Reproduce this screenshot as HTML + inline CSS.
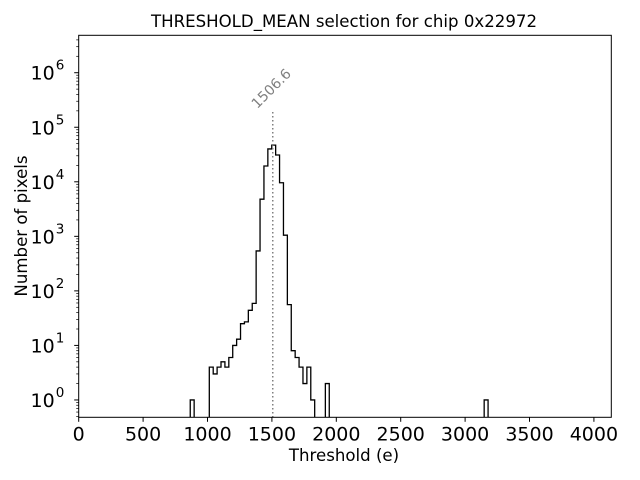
<!DOCTYPE html>
<html><head><meta charset="utf-8"><style>
body{margin:0;background:#fff;}
svg{display:block;font-family:"DejaVu Sans","Liberation Sans",sans-serif;}
</style></head><body>
<svg id="chart" width="640" height="480">
<rect width="640" height="480" fill="#fff"/>
<text x="344" y="27" font-size="16.6" text-anchor="middle">THRESHOLD_MEAN selection for chip 0x22972</text>
<text x="344" y="461" font-size="16.6" text-anchor="middle">Threshold (e)</text>
<text transform="translate(27,226) rotate(-90)" font-size="16.6" text-anchor="middle">Number of pixels</text>
<g id="plot"></g>
</svg>
<script>
const binStart = 1014;
const binWidth = 30.3;
const counts = [4,3,4,5,4,6,10,13,25,27,44,59,540,4800,19500,40000,47000,31000,9600,1050,56,8,6,4,2,4,1];
const extraLefts = [866,1915,3148];
const extraCounts = [1,2,1];
const xTicks = [0,500,1000,1500,2000,2500,3000,3500,4000];
const yTickExps = [0,1,2,3,4,5,6];
const thresholdValue = 1506.6;
const thresholdLineTop = 190000;

const X0=78.7, X1=611.3, Y0=417.3, Y1=35.3;
const xmin=0, xmax=4135, lmin=-0.318, lmax=6.686;
const sx=v=>X0+(v-xmin)/(xmax-xmin)*(X1-X0);
const sy=v=>Y0-(Math.log10(v)-lmin)/(lmax-lmin)*(Y0-Y1);
const NS='http://www.w3.org/2000/svg';
const g=document.getElementById('plot');
function mk(t,a,parent){const e=document.createElementNS(NS,t);for(const k in a)e.setAttribute(k,a[k]);(parent||g).appendChild(e);return e;}

let d='M'+sx(binStart)+','+Y0;
counts.forEach((c,i)=>{const l=sx(binStart+i*binWidth),r=sx(binStart+(i+1)*binWidth);
 const y=c>0?sy(c):Y0; d+=' L'+l+','+y+' L'+r+','+y;});
d+=' L'+sx(binStart+counts.length*binWidth)+','+Y0;
let p=mk('path',{d:d,fill:'none',stroke:'#000','stroke-width':1.3});


extraLefts.forEach((l,i)=>{
 const e=mk('path',{d:'M'+sx(l)+','+Y0+' L'+sx(l)+','+sy(extraCounts[i])+' L'+sx(l+binWidth)+','+sy(extraCounts[i])+' L'+sx(l+binWidth)+','+Y0,fill:'none',stroke:'#000','stroke-width':1.3});
 
 
});
const tx=sx(thresholdValue);
let tl=mk('line',{x1:tx,x2:tx,y1:sy(thresholdLineTop),y2:Y0,stroke:'#808080','stroke-width':1.5,'stroke-dasharray':'1.5,2.5'});


const lx=tx-1, ly=sy(thresholdLineTop)-23;
let tt=mk('text',{x:lx,y:ly,'font-size':14,fill:'#808080','text-anchor':'middle','dominant-baseline':'middle',transform:'rotate(-45,'+lx+','+ly+')'});
tt.textContent=String(thresholdValue);


let fr=mk('rect',{x:X0,y:Y1,width:X1-X0,height:Y0-Y1,fill:'none',stroke:'#000','stroke-width':1});


xTicks.forEach(v=>{const x=sx(v);mk('line',{x1:x,x2:x,y1:Y0,y2:Y0+4.5,stroke:'#000'});
 const t=mk('text',{x:x,y:Y0+23,'font-size':19,'text-anchor':'middle'});t.textContent=v;
 
 });
yTickExps.forEach(e=>{const y=sy(Math.pow(10,e));mk('line',{x1:X0-4.5,x2:X0,y1:y,y2:y,stroke:'#000'});
 const t=mk('text',{x:X0-24,y:y+7,'font-size':19,'text-anchor':'end'});t.textContent='10';
 
 
 const s=mk('text',{x:X0-23,y:y-3,'font-size':13.5,'text-anchor':'start'});s.textContent=e;
 
 });
for(let e=-1;e<=6;e++)for(let m=2;m<=9;m++){const v=m*Math.pow(10,e);const L=Math.log10(v);
 if(L<lmin||L>lmax)continue;const y=sy(v);mk('line',{x1:X0-2.5,x2:X0,y1:y,y2:y,stroke:'#000','stroke-width':0.7});}
</script>
</body></html>
